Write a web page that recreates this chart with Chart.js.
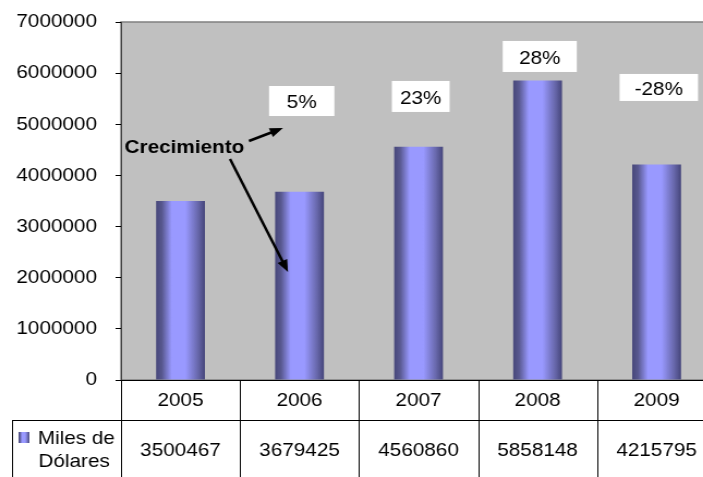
<!DOCTYPE html>
<html>
<head>
<meta charset="utf-8">
<script src="https://cdn.jsdelivr.net/npm/chart.js"></script>
<style>
  html, body { margin: 0; padding: 0; background: #fff; overflow: hidden; width: 703px; height: 477px; }
  /* the sheet was exported slightly wide, so the whole chart is stretched sideways */
  #wrap { width: 660px; height: 477px; transform: scaleX(1.09); transform-origin: 0 0; }
</style>
</head>
<body>
<div id="wrap"><canvas id="myChart" width="660" height="477"></canvas></div>
<script>
const years = ['2005', '2006', '2007', '2008', '2009'];
const milesDeDolares = [3500467, 3679425, 4560860, 5858148, 4215795];
const crecimiento = ['5%', '23%', '28%', '-28%'];
const serieLabel = ['Miles de', 'Dólares'];
const yMax = 7000000;
const yStep = 1000000;

// where the growth boxes sit: category index, value height, box size
const boxIndex = [1, 2, 3, 4];
const boxValue = [5455000, 5544000, 6326000, 5720000];
const boxW = [60, 53, 68, 72];
const boxH = [30, 31, 31, 27];

const BAR_PCT = 0.41;

Chart.defaults.font.family = '"Liberation Sans", Arial, sans-serif';
Chart.defaults.color = '#000';

function barGradient(c, left, right) {
    const g = c.createLinearGradient(left, 0, right, 0);
    g.addColorStop(0, '#47477a');
    g.addColorStop(0.12, '#58588f');
    g.addColorStop(0.32, '#9999ff');
    g.addColorStop(0.6, '#9999ff');
    g.addColorStop(0.86, '#6767aa');
    g.addColorStop(1, '#45457a');
    return g;
}

function arrow(c, x1, y1, x2, y2) {
    const ang = Math.atan2(y2 - y1, x2 - x1);
    const head = 13;
    c.beginPath();
    c.moveTo(x1, y1);
    c.lineTo(x2 - head * 0.7 * Math.cos(ang), y2 - head * 0.7 * Math.sin(ang));
    c.stroke();
    c.beginPath();
    c.moveTo(x2, y2);
    c.lineTo(x2 - head * Math.cos(ang - 0.38), y2 - head * Math.sin(ang - 0.38));
    c.lineTo(x2 - head * Math.cos(ang + 0.38), y2 - head * Math.sin(ang + 0.38));
    c.closePath();
    c.fill();
}

const plotBackground = {
    id: 'plotBackground',
    beforeDraw(chart) {
        const { ctx, chartArea: a } = chart;
        ctx.save();
        ctx.fillStyle = '#c0c0c0';
        ctx.fillRect(a.left, a.top, a.right - a.left, a.bottom - a.top);
        ctx.strokeStyle = '#808080';
        ctx.lineWidth = 1.5;
        ctx.strokeRect(a.left, a.top, a.right - a.left, a.bottom - a.top);
        ctx.restore();
    }
};

const growthLabels = {
    id: 'growthLabels',
    afterDatasetsDraw(chart) {
        const { ctx, scales: { x, y } } = chart;
        ctx.save();
        ctx.font = '19px "Liberation Sans", Arial, sans-serif';
        ctx.textAlign = 'center';
        ctx.textBaseline = 'middle';
        crecimiento.forEach((txt, i) => {
            const cx = x.getPixelForValue(boxIndex[i]) + 2;
            const cy = y.getPixelForValue(boxValue[i]);
            ctx.fillStyle = '#fff';
            ctx.fillRect(cx - boxW[i] / 2, cy - boxH[i] / 2, boxW[i], boxH[i]);
            ctx.fillStyle = '#000';
            ctx.fillText(txt, cx, cy + 2);
        });

        // "Crecimiento" note with its two arrows
        ctx.font = 'bold 19px "Liberation Sans", Arial, sans-serif';
        ctx.textAlign = 'left';
        ctx.textBaseline = 'alphabetic';
        ctx.fillText('Crecimiento', x.getPixelForValue(-0.47), y.getPixelForValue(4440000));
        ctx.strokeStyle = '#000';
        ctx.lineWidth = 2.5;
        arrow(ctx, x.getPixelForValue(0.575), y.getPixelForValue(4673000),
            x.getPixelForValue(0.861), y.getPixelForValue(4928000));
        arrow(ctx, x.getPixelForValue(0.416), y.getPixelForValue(4320000),
            x.getPixelForValue(0.903), y.getPixelForValue(2112000));
        ctx.restore();
    }
};

const dataTable = {
    id: 'dataTable',
    afterDraw(chart) {
        const { ctx, chartArea: a, scales: { x } } = chart;
        const top = a.bottom;
        const mid = top + 40;
        const end = chart.height;
        const legendLeft = 11;
        ctx.save();
        ctx.strokeStyle = '#000';
        ctx.lineWidth = 1;
        ctx.beginPath();
        ctx.moveTo(a.left, top + 0.5);
        ctx.lineTo(a.right, top + 0.5);
        ctx.moveTo(legendLeft, mid + 0.5);
        ctx.lineTo(a.right, mid + 0.5);
        ctx.moveTo(legendLeft + 0.5, mid);
        ctx.lineTo(legendLeft + 0.5, end);
        for (let i = 0; i <= years.length; i++) {
            const px = Math.round(x.getPixelForValue(i - 0.5)) + 0.5;
            ctx.moveTo(px, top);
            ctx.lineTo(px, end);
        }
        ctx.stroke();

        ctx.fillStyle = '#000';
        ctx.font = '19px "Liberation Sans", Arial, sans-serif';
        ctx.textAlign = 'center';
        ctx.textBaseline = 'middle';
        years.forEach((yr, i) => {
            const cx = x.getPixelForValue(i);
            ctx.fillText(yr, cx, top + 21);
            ctx.fillText(String(milesDeDolares[i]), cx, top + 71);
        });

        // series key
        ctx.fillStyle = barGradient(ctx, 17, 27);
        ctx.fillRect(17, top + 52, 10, 11);
        ctx.fillStyle = '#000';
        ctx.fillText(serieLabel[0], 70, top + 59);
        ctx.fillText(serieLabel[1], 68, top + 82);
        ctx.restore();
    }
};

const ctx = document.getElementById('myChart');

new Chart(ctx, {
    type: 'bar',
    data: {
        labels: years,
        datasets: [{
            label: serieLabel.join(' '),
            data: milesDeDolares,
            barPercentage: BAR_PCT,
            categoryPercentage: 1,
            borderWidth: 0,
            backgroundColor: (c) => {
                const chart = c.chart;
                const x = chart.scales.x;
                if (!chart.chartArea || !x) return '#9999ff';
                const mid = x.getPixelForValue(c.dataIndex);
                const half = x.width / years.length * BAR_PCT / 2;
                return barGradient(chart.ctx, mid - half, mid + half);
            }
        }]
    },
    options: {
        responsive: false,
        animation: false,
        devicePixelRatio: 1,
        layout: {
            padding: { top: 22, right: 3, bottom: 0, left: 0 }
        },
        plugins: {
            legend: { display: false },
            tooltip: { enabled: false }
        },
        scales: {
            x: {
                ticks: { display: false },
                grid: { display: false },
                border: { display: false },
                afterFit: (s) => { s.height = 97; }
            },
            y: {
                min: 0,
                max: yMax,
                ticks: {
                    stepSize: yStep,
                    padding: 17,
                    color: '#000',
                    font: { size: 19 },
                    callback: (v) => String(v)
                },
                grid: { drawOnChartArea: false, tickLength: 5, color: '#000' },
                border: { color: '#404040', width: 1 },
                afterFit: (s) => {
                    s.width = 111;
                    // the label gap is sideways only, keep it out of the top/bottom room
                    s.paddingTop = 11;
                    s.paddingBottom = 11;
                }
            }
        }
    },
    plugins: [plotBackground, growthLabels, dataTable]
});
</script>
</body>
</html>
